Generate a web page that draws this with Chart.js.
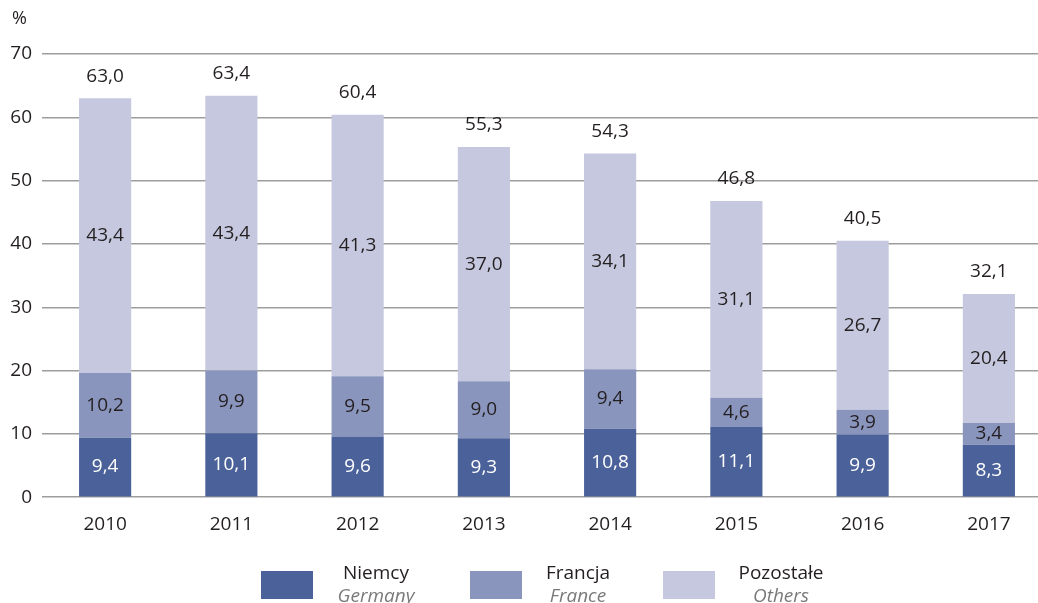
<!DOCTYPE html>
<html>
<head>
<meta charset="utf-8">
<script src="https://cdn.jsdelivr.net/npm/chart.js@4"></script>
<style>
  html, body { margin: 0; padding: 0; background: #fff; overflow: hidden; }
  #wrap { position: relative; width: 1052px; height: 603px; }
</style>
</head>
<body>
<div id="wrap"><canvas id="chart"></canvas></div>
<script>
let years = ["2010", "2011", "2012", "2013", "2014", "2015", "2016", "2017"];
let germany = [9.4, 10.1, 9.6, 9.3, 10.8, 11.1, 9.9, 8.3];
let france = [10.2, 9.9, 9.5, 9.0, 9.4, 4.6, 3.9, 3.4];
let others = [43.4, 43.4, 41.3, 37.0, 34.1, 31.1, 26.7, 20.4];
let totals = [63.0, 63.4, 60.4, 55.3, 54.3, 46.8, 40.5, 32.1];
let yTicks = [0, 10, 20, 30, 40, 50, 60, 70];
let legendPl = ["Niemcy", "Francja", "Pozostałe"];
let legendEn = ["Germany", "France", "Others"];
let colors = ["#4b6199", "#8a95be", "#c5c8de"];

let FONT = "'Open Sans', sans-serif";

function fmt(v) {
  return v.toFixed(1).replace(".", ",");
}

// value labels inside segments and totals on top, plus % and legend
let labelPlugin = {
  id: "labels",
  afterDatasetsDraw: function (chart) {
    let ctx = chart.ctx;
    ctx.save();
    ctx.font = "19px " + FONT;
    ctx.textAlign = "center";
    ctx.textBaseline = "middle";
    chart.data.datasets.forEach(function (ds, i) {
      let meta = chart.getDatasetMeta(i);
      meta.data.forEach(function (bar, j) {
        let mid = (bar.y + bar.base) / 2;
        ctx.fillStyle = i === 0 ? "#ffffff" : "#231f20";
        ctx.fillText(fmt(ds.data[j]), bar.x, mid);
      });
    });
    let yScale = chart.scales.y;
    let top = chart.getDatasetMeta(2);
    top.data.forEach(function (bar, j) {
      ctx.fillStyle = "#231f20";
      ctx.fillText(fmt(totals[j]), bar.x, yScale.getPixelForValue(totals[j]) - 22);
    });
    // unit
    ctx.textAlign = "left";
    ctx.font = "18px " + FONT;
    ctx.fillText("%", 12, 19);
    // legend
    let boxX = [261, 470, 663];
    let textX = [376, 578, 781];
    for (let k = 0; k < 3; k++) {
      ctx.fillStyle = colors[k];
      ctx.fillRect(boxX[k], 571, 52, 28);
      ctx.textAlign = "center";
      ctx.fillStyle = "#231f20";
      ctx.font = "19px " + FONT;
      ctx.fillText(legendPl[k], textX[k], 574);
      ctx.fillStyle = "#7a7a7a";
      ctx.font = "italic 19px " + FONT;
      ctx.fillText(legendEn[k], textX[k], 597);
    }
    ctx.restore();
  },
};

let ctx = document.getElementById("chart").getContext("2d");
new Chart(ctx, {
  type: "bar",
  data: {
    labels: years,
    datasets: [
      { label: legendPl[0], data: germany, backgroundColor: colors[0] },
      { label: legendPl[1], data: france, backgroundColor: colors[1] },
      { label: legendPl[2], data: others, backgroundColor: colors[2] },
    ],
  },
  options: {
    responsive: true,
    maintainAspectRatio: false,
    animation: false,
    layout: { padding: { top: 54, bottom: 59, left: 0, right: 0 } },
    datasets: {
      bar: { barPercentage: 0.413, categoryPercentage: 1.0, borderWidth: 0 },
    },
    plugins: {
      legend: { display: false },
      tooltip: { enabled: false },
    },
    scales: {
      x: {
        stacked: true,
        grid: { display: false },
        border: { display: false },
        ticks: { color: "#231f20", font: { family: FONT, size: 19 }, padding: 8 },
      },
      y: {
        stacked: true,
        min: 0,
        max: 70,
        afterBuildTicks: function (scale) {
          scale.ticks = yTicks.map(function (v) { return { value: v }; });
        },
        afterFit: function (scale) {
          scale.width = 42;
        },
        grid: { color: "#9d9d9d", lineWidth: 1.5, drawTicks: false },
        border: { display: false },
        ticks: { color: "#231f20", font: { family: FONT, size: 19 }, padding: 10 },
      },
    },
  },
  plugins: [labelPlugin],
});
</script>
</body>
</html>
